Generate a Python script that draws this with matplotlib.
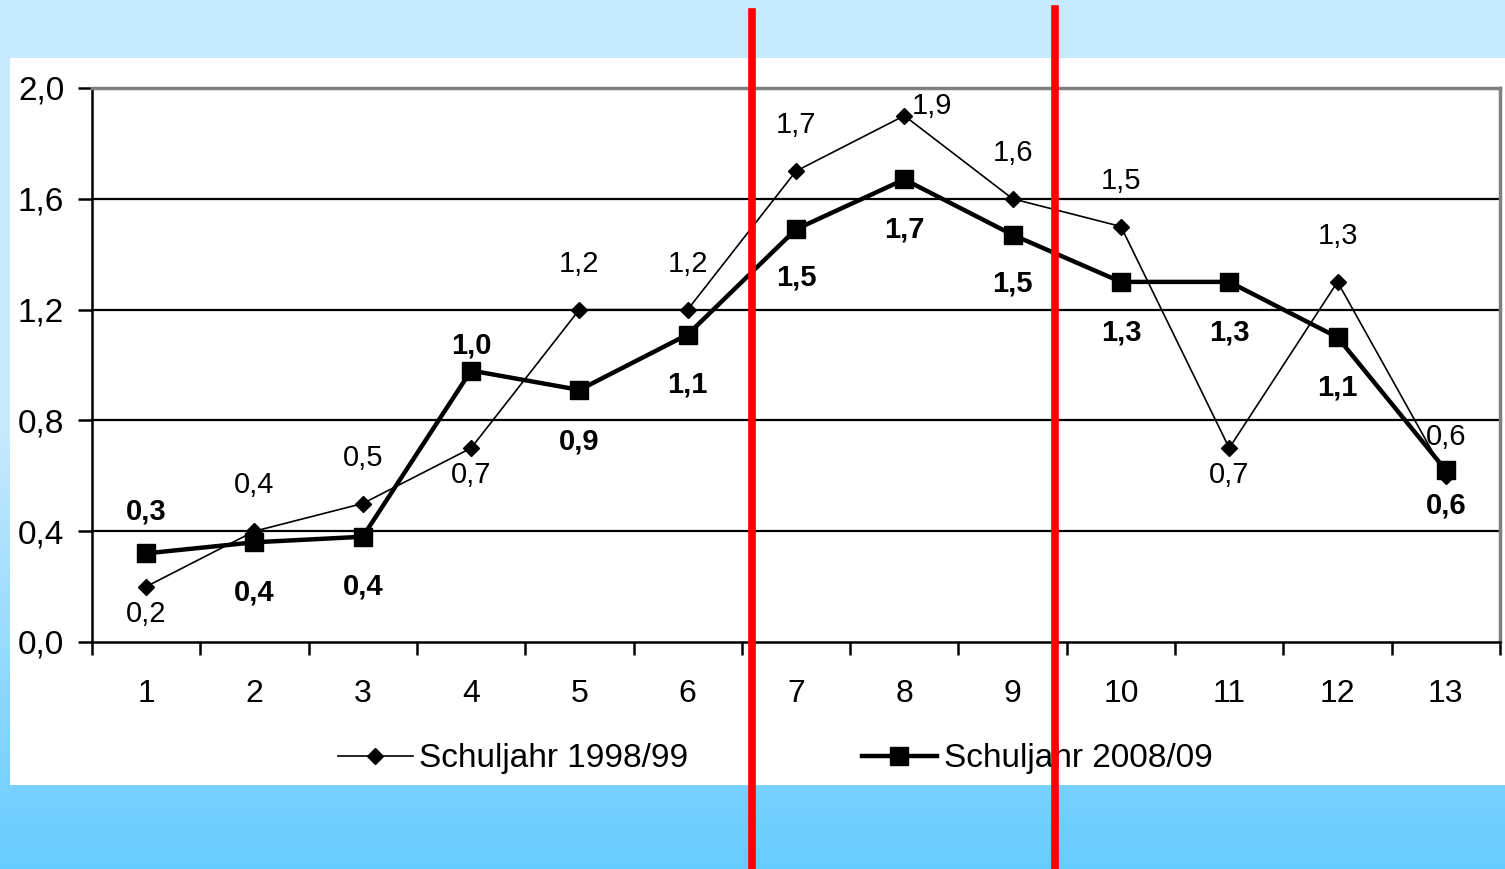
import matplotlib
matplotlib.use("Agg")
import matplotlib.pyplot as plt
import numpy as np
from matplotlib.colors import LinearSegmentedColormap

plt.rcParams['font.family'] = ['Liberation Sans', 'DejaVu Sans']

# Daten
klassen = [1, 2, 3, 4, 5, 6, 7, 8, 9, 10, 11, 12, 13]
werte_1998 = [0.2, 0.4, 0.5, 0.7, 1.2, 1.2, 1.7, 1.9, 1.6, 1.5, 0.7, 1.3, 0.6]
werte_2008 = [0.32, 0.36, 0.38, 0.98, 0.91, 1.11, 1.49, 1.67, 1.47, 1.30, 1.30, 1.10, 0.62]
namen = ['Schuljahr 1998/99', 'Schuljahr 2008/09']
y_ticks = [0.0, 0.4, 0.8, 1.2, 1.6, 2.0]

# Lage der Beschriftungen (Versatz in pt)
off_1998 = [(0, -10), (0, 23), (0, 23), (0, -9), (0, 23), (0, 23), (0, 23),
            (5, -3), (0, 23), (0, 23), (0, -9), (0, 23), (0, 18)]
off_2008 = [(0, 20), (0, -26), (0, -26), (0, 8), (0, -27), (0, -26), (0, -25),
            (0, -26), (0, -25), (0, -26), (0, -26), (0, -26), (0, -15)]


def komma(v):
    return f'{v:.1f}'.replace('.', ',')


def beschriften(ax, werte, offsets, weight, size):
    for x, v, (dx, dy) in zip(klassen, werte, offsets):
        ha = 'left' if dx > 0 else 'center'
        va = 'bottom' if dy > 0 or dx > 0 else 'top'
        ax.annotate(komma(v), (x, v), xytext=(dx, dy), textcoords='offset points',
                    ha=ha, va=va, fontsize=size, fontweight=weight, zorder=5)


fig = plt.figure(figsize=(15.05, 8.69), dpi=100)

# Hintergrund mit Farbverlauf
bg = fig.add_axes([0, 0, 1, 1], zorder=-2)
verlauf = LinearSegmentedColormap.from_list('blau', ['#c6e9fd', '#c6e9fd', '#66ccff'])
bg.imshow(np.linspace(0, 1, 256).reshape(-1, 1), aspect='auto', cmap=verlauf,
          extent=[0, 1, 0, 1], origin='upper')
bg.add_patch(plt.Rectangle((10 / 1505, 1 - 785 / 869), 1, (785 - 58) / 869,
                           facecolor='white', edgecolor='none'))
bg.set_xlim(0, 1)
bg.set_ylim(0, 1)
bg.axis('off')

ax = fig.add_axes([92 / 1505, 1 - 642 / 869, (1500 - 92) / 1505, (642 - 88) / 869])
ax.set_facecolor('none')

ax.plot(klassen, werte_1998, color='black', lw=1.2, marker='D', markersize=8,
        label=namen[0], zorder=3)
ax.plot(klassen, werte_2008, color='black', lw=3.2, marker='s', markersize=13,
        label=namen[1], zorder=4)

beschriften(ax, werte_1998, off_1998, 'normal', 21)
beschriften(ax, werte_2008, off_2008, 'bold', 21)

ax.set_xlim(0.5, 13.5)
ax.set_ylim(0, 2.0)
ax.set_yticks(y_ticks)
ax.set_yticklabels([komma(v) for v in y_ticks], fontsize=24)
ax.set_xticks(np.arange(0.5, 14, 1))
ax.set_xticklabels([])
ax.set_xticks(klassen, minor=True)
ax.set_xticklabels([str(k) for k in klassen], minor=True, fontsize=23)
ax.tick_params(axis='x', which='major', direction='out', length=9, width=1.8)
ax.tick_params(axis='x', which='minor', length=0, pad=27)
ax.tick_params(axis='y', direction='out', length=10, width=1.8, pad=10)

for v in y_ticks[1:-1]:
    ax.axhline(v, color='black', lw=1.6, zorder=1)
ax.spines['top'].set_color('#808080')
ax.spines['right'].set_color('#808080')
ax.spines['top'].set_linewidth(2.5)
ax.spines['right'].set_linewidth(2.5)
ax.spines['left'].set_linewidth(1.8)
ax.spines['bottom'].set_linewidth(1.8)

fig.legend(loc='center', bbox_to_anchor=(775 / 1505, 1 - 759 / 869), ncol=2,
           frameon=False, fontsize=24, handlelength=2.25, handletextpad=0.2,
           columnspacing=5.2)

# rote Trennlinien
fig.add_artist(plt.Line2D([752 / 1505, 752 / 1505], [0, 1 - 12 / 869],
                          color='red', lw=5.5, zorder=10))
fig.add_artist(plt.Line2D([1055 / 1505, 1055 / 1505], [0, 1 - 9 / 869],
                          color='red', lw=5.5, zorder=10))

fig.savefig('out.png', dpi=100)
